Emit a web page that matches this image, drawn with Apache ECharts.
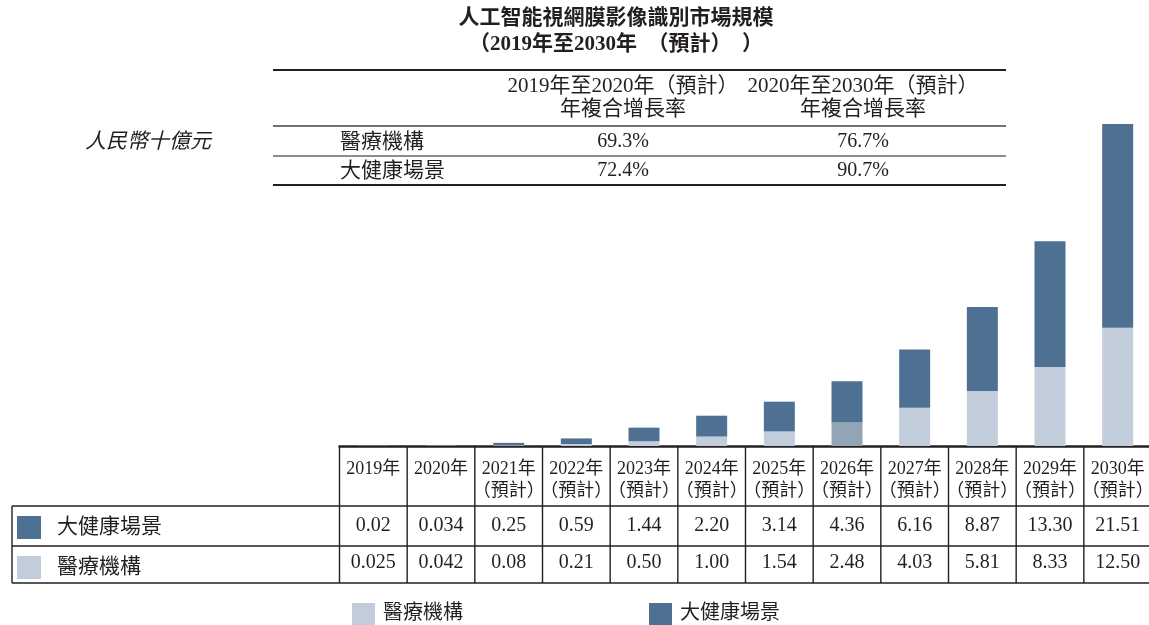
<!DOCTYPE html>
<html><head><meta charset="utf-8">
<script src="https://cdn.jsdelivr.net/npm/echarts@6/dist/echarts.min.js"></script>
<style>html,body{margin:0;padding:0;background:#fff}#c{width:1149px;height:625px}</style>
</head><body><div id="c"></div>
<script>
const categories = ['2019年','2020年','2021年\n（預計）','2022年\n（預計）','2023年\n（預計）','2024年\n（預計）','2025年\n（預計）','2026年\n（預計）','2027年\n（預計）','2028年\n（預計）','2029年\n（預計）','2030年\n（預計）'];
const medicalValues = [0.025,0.042,0.08,0.21,0.50,1.00,1.54,2.48,4.03,5.81,8.33,12.50];
const healthValues = [0.02,0.034,0.25,0.59,1.44,2.20,3.14,4.36,6.16,8.87,13.30,21.51];
const medicalLabels = ['0.025','0.042','0.08','0.21','0.50','1.00','1.54','2.48','4.03','5.81','8.33','12.50'];
const healthLabels = ['0.02','0.034','0.25','0.59','1.44','2.20','3.14','4.36','6.16','8.87','13.30','21.51'];
const seriesNames = ['醫療機構','大健康場景'];
const titleText = '人工智能視網膜影像識別市場規模\n（2019年至2030年  （預計）  ）';
const unitText = '人民幣十億元';
const cagrHeaders = ['2019年至2020年（預計）\n年複合增長率','2020年至2030年（預計）\n年複合增長率'];
const cagrRowNames = ['醫療機構','大健康場景'];
const cagrMedical = ['69.3%','76.7%'];
const cagrHealth = ['72.4%','90.7%'];

const FONT = "'Liberation Serif','Noto Sans CJK TC',serif";
const INK = '#231f20';
const LIGHT = '#c1cddb';
const DARK = '#4e7093';
const ODD = '#93a4b5';

const chart = echarts.init(document.getElementById('c'));
const option = {
  animation: false,
  textStyle: {fontFamily: FONT, color: INK},
  title: {
    text: titleText, left: 616, top: 6, textAlign: 'center', padding: 0,
    textStyle: {fontFamily: FONT, fontSize: 21, fontWeight: 'bold', lineHeight: 26, color: INK}
  },
  legend: {
    data: seriesNames, left: 352, top: 603, padding: 0, itemWidth: 23, itemHeight: 22, itemGap: 186,
    icon: 'rect', textStyle: {fontFamily: FONT, fontSize: 20, color: INK, padding: [0, 0, 0, 3]}
  },
  grid: {left: 339.5, width: 812, top: 67.2, bottom: 179, containLabel: false, outerBoundsMode: 'none'},
  xAxis: [
    {type: 'category', data: categories,
     axisLine: {lineStyle: {color: INK, width: 2.5}}, axisTick: {show: false},
     axisLabel: {interval: 0, margin: 12, fontSize: 18, lineHeight: 22, color: INK, fontFamily: FONT}},
    {type: 'category', data: healthLabels, position: 'bottom', offset: 60,
     axisLine: {show: false}, axisTick: {show: false},
     axisLabel: {interval: 0, margin: 10, fontSize: 20, color: INK, fontFamily: FONT}},
    {type: 'category', data: medicalLabels, position: 'bottom', offset: 97,
     axisLine: {show: false}, axisTick: {show: false},
     axisLabel: {interval: 0, margin: 10, fontSize: 20, color: INK, fontFamily: FONT}}
  ],
  yAxis: {type: 'value', min: 0, max: 40, show: false},
  series: [
    {name: seriesNames[0], type: 'bar', stack: 'a', barWidth: 31, itemStyle: {color: LIGHT},
     data: medicalValues.map((v, i) => i === 7 ? {value: v, itemStyle: {color: ODD}} : v)},
    {name: seriesNames[1], type: 'bar', stack: 'a', barWidth: 31, itemStyle: {color: DARK},
     data: healthValues}
  ]
};
chart.setOption(option);

// build table graphics from axis positions
const xs = categories.map((c, i) => chart.convertToPixel({xAxisIndex: 0}, i));
const band = xs[1] - xs[0];
const bounds = [xs[0] - band / 2].concat(xs.map(x => x + band / 2));
const y0 = chart.convertToPixel({yAxisIndex: 0}, 0);
const rowTop = y0 + 60, rowMid = y0 + 100, rowBot = y0 + 137;
const tableLeft = 12, right = 1149;
const g = [];
const line = (x1, y1, x2, y2, w, c) => g.push({type: 'line', shape: {x1, y1, x2, y2}, style: {stroke: c || INK, lineWidth: w || 1.4}, silent: true});
bounds.forEach(b => { if (b < right - 1) line(b, y0, b, rowBot); });
line(tableLeft, rowTop, right, rowTop);
line(tableLeft, rowMid, right, rowMid);
line(tableLeft, rowBot, right, rowBot);
line(tableLeft, rowTop, tableLeft, rowBot);
// row legends
[[seriesNames[1], DARK, rowTop], [seriesNames[0], LIGHT, rowMid]].forEach(([n, col, top]) => {
  g.push({type: 'rect', shape: {x: 17, y: top + 10, width: 24, height: 23}, style: {fill: col}, silent: true});
  g.push({type: 'text', x: 57, y: top + 21, style: {text: n, font: '21px ' + FONT, fill: INK, textVerticalAlign: 'middle', verticalAlign: 'middle'}, silent: true});
});
// CAGR table
const cL = 273, cR = 1006;
line(cL, 70, cR, 70, 2);
line(cL, 126, cR, 126, 1.5, '#444');
line(cL, 156, cR, 156, 1.5, '#6b6560');
line(cL, 185, cR, 185, 2);
const colX = [623, 863];
cagrHeaders.forEach((h, i) => g.push({type: 'text', x: colX[i], y: 98, style: {text: h, font: '21px ' + FONT, lineHeight: 23, fill: INK, align: 'center', verticalAlign: 'middle', textAlign: 'center', textVerticalAlign: 'middle'}, silent: true}));
[[cagrRowNames[0], cagrMedical, 142], [cagrRowNames[1], cagrHealth, 171]].forEach(([n, vals, y]) => {
  g.push({type: 'text', x: 340, y, style: {text: n, font: '21px ' + FONT, fill: INK, verticalAlign: 'middle', textVerticalAlign: 'middle'}, silent: true});
  vals.forEach((v, i) => g.push({type: 'text', x: colX[i], y, style: {text: v, font: '20px ' + FONT, fill: INK, align: 'center', verticalAlign: 'middle', textAlign: 'center', textVerticalAlign: 'middle'}, silent: true}));
});
g.push({type: 'text', x: 85, y: 142, style: {text: unitText, font: 'italic 21px ' + FONT, fill: INK, verticalAlign: 'middle', textVerticalAlign: 'middle'}, silent: true});
chart.setOption({graphic: g});
</script></body></html>
